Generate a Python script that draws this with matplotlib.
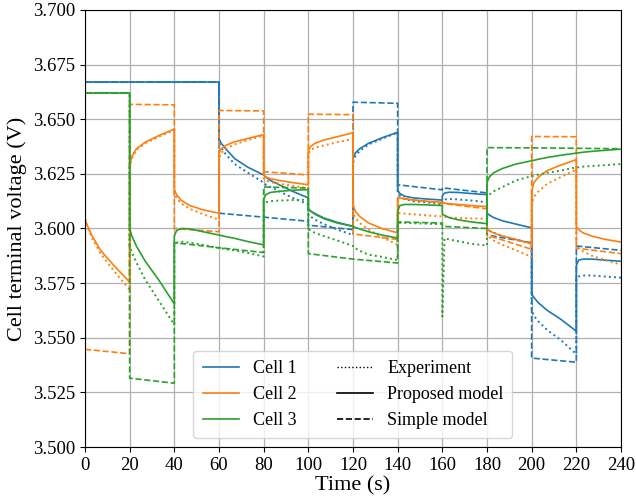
import numpy as np
import matplotlib
matplotlib.use("Agg")
import matplotlib.pyplot as plt
from matplotlib.lines import Line2D
from matplotlib.ticker import FormatStrFormatter

plt.rcParams['font.family'] = ['Liberation Serif', 'DejaVu Serif']

# sample times inside each 20 s step (s)
step_len = 20
offsets = [0, 1, 3, 7, 13, 20]

# Cell 1 -------------------------------------------------------------
cell1_exp = [
    [3.667, 3.667, 3.667, 3.667, 3.667, 3.667],
    [3.667, 3.667, 3.667, 3.667, 3.667, 3.667],
    [3.667, 3.667, 3.667, 3.667, 3.667, 3.667],
    [3.639, 3.637, 3.634, 3.6295, 3.6255, 3.621],
    [3.621, 3.620, 3.619, 3.617, 3.614, 3.611],
    [3.6065, 3.6055, 3.604, 3.602, 3.5995, 3.597],
    [3.630, 3.633, 3.6355, 3.6385, 3.641, 3.644],
    [3.617, 3.615, 3.6135, 3.6125, 3.612, 3.611],
    [3.6125, 3.6133, 3.6135, 3.6133, 3.6128, 3.612],
    [3.5995, 3.599, 3.598, 3.5965, 3.595, 3.593],
    [3.5625, 3.560, 3.5575, 3.5535, 3.549, 3.5425],
    [3.577, 3.578, 3.5785, 3.5785, 3.578, 3.5775],
]
cell1_prop = [
    [3.667, 3.667, 3.667, 3.667, 3.667, 3.667],
    [3.667, 3.667, 3.667, 3.667, 3.667, 3.667],
    [3.667, 3.667, 3.667, 3.667, 3.667, 3.667],
    [3.641, 3.639, 3.6365, 3.632, 3.628, 3.6245],
    [3.6245, 3.6235, 3.622, 3.620, 3.617, 3.614],
    [3.609, 3.608, 3.6068, 3.6048, 3.6028, 3.601],
    [3.632, 3.6345, 3.6365, 3.639, 3.6415, 3.644],
    [3.6175, 3.616, 3.6148, 3.614, 3.6135, 3.613],
    [3.615, 3.6162, 3.6166, 3.6165, 3.616, 3.6155],
    [3.607, 3.6062, 3.605, 3.6035, 3.602, 3.6003],
    [3.570, 3.5685, 3.566, 3.5625, 3.5585, 3.553],
    [3.583, 3.5855, 3.586, 3.586, 3.5855, 3.585],
]
cell1_simple = [
    (3.667, 3.667), (3.667, 3.667), (3.667, 3.667),
    (3.607, 3.6052), (3.6052, 3.6033), (3.6015, 3.5995),
    (3.6578, 3.6573), (3.620, 3.6177), (3.6186, 3.6163),
    (3.597, 3.5935), (3.5407, 3.5388), (3.592, 3.590),
]

# Cell 2 -------------------------------------------------------------
cell2_exp = [
    [3.6045, 3.601, 3.596, 3.5885, 3.5805, 3.572],
    [3.628, 3.632, 3.636, 3.639, 3.642, 3.645],
    [3.6165, 3.614, 3.6115, 3.609, 3.6065, 3.604],
    [3.632, 3.6345, 3.6365, 3.6385, 3.6405, 3.6425],
    [3.623, 3.622, 3.6212, 3.6205, 3.6195, 3.6185],
    [3.634, 3.636, 3.637, 3.638, 3.6395, 3.641],
    [3.6075, 3.605, 3.6025, 3.5995, 3.596, 3.5925],
    [3.6075, 3.607, 3.6068, 3.6065, 3.606, 3.6055],
    [3.6055, 3.6053, 3.605, 3.6048, 3.6046, 3.6045],
    [3.597, 3.596, 3.5945, 3.5925, 3.590, 3.587],
    [3.611, 3.6145, 3.617, 3.6205, 3.6235, 3.627],
    [3.5925, 3.591, 3.5895, 3.5875, 3.5855, 3.5835],
]
cell2_prop = [
    [3.6045, 3.6015, 3.597, 3.590, 3.583, 3.5755],
    [3.629, 3.633, 3.6365, 3.6395, 3.6425, 3.6455],
    [3.618, 3.6155, 3.613, 3.6105, 3.6085, 3.607],
    [3.6345, 3.6365, 3.638, 3.6397, 3.6412, 3.643],
    [3.6245, 3.6235, 3.6228, 3.622, 3.621, 3.620],
    [3.6355, 3.6375, 3.639, 3.6405, 3.642, 3.6438],
    [3.611, 3.608, 3.6055, 3.6025, 3.600, 3.598],
    [3.6135, 3.614, 3.6136, 3.613, 3.6125, 3.612],
    [3.612, 3.6117, 3.6113, 3.611, 3.6105, 3.610],
    [3.600, 3.599, 3.598, 3.5965, 3.595, 3.593],
    [3.617, 3.621, 3.6235, 3.6265, 3.629, 3.6315],
    [3.601, 3.5995, 3.598, 3.5965, 3.595, 3.5938],
]
cell2_simple = [
    (3.5447, 3.5427), (3.6568, 3.6566), (3.600, 3.5985),
    (3.654, 3.6538), (3.626, 3.6245), (3.6523, 3.6521),
    (3.5975, 3.595), (3.614, 3.6115), (3.6115, 3.609),
    (3.597, 3.5905), (3.6421, 3.642), (3.591, 3.5885),
]

# Cell 3 -------------------------------------------------------------
cell3_exp = [
    [3.662, 3.662, 3.662, 3.662, 3.662, 3.662],
    [3.592, 3.589, 3.5845, 3.5765, 3.567, 3.556],
    [3.5925, 3.5935, 3.594, 3.5935, 3.5925, 3.591],
    [3.591, 3.591, 3.5905, 3.590, 3.5888, 3.5872],
    [3.611, 3.612, 3.6125, 3.6128, 3.613, 3.6132],
    [3.600, 3.599, 3.598, 3.5965, 3.5945, 3.592],
    [3.5915, 3.591, 3.5898, 3.588, 3.587, 3.5855],
    [3.6025, 3.6026, 3.6026, 3.6024, 3.6022, 3.602],
    [3.5597, 3.5955, 3.595, 3.5942, 3.593, 3.5922],
    [3.6145, 3.6155, 3.617, 3.619, 3.622, 3.624],
    [3.624, 3.6242, 3.6247, 3.6255, 3.6265, 3.628],
    [3.628, 3.628, 3.6283, 3.6286, 3.629, 3.6295],
]
cell3_prop = [
    [3.662, 3.662, 3.662, 3.662, 3.662, 3.662],
    [3.600, 3.5965, 3.592, 3.585, 3.5765, 3.5655],
    [3.5965, 3.599, 3.600, 3.5998, 3.5985, 3.597],
    [3.597, 3.5968, 3.5963, 3.5955, 3.594, 3.5925],
    [3.6135, 3.6155, 3.6165, 3.617, 3.6175, 3.6178],
    [3.609, 3.608, 3.6065, 3.6045, 3.6025, 3.601],
    [3.601, 3.6005, 3.5998, 3.5985, 3.597, 3.5956],
    [3.608, 3.6105, 3.611, 3.611, 3.6108, 3.6105],
    [3.6065, 3.606, 3.605, 3.604, 3.603, 3.6022],
    [3.621, 3.6235, 3.6255, 3.6275, 3.6295, 3.631],
    [3.631, 3.6312, 3.6317, 3.6325, 3.6335, 3.6345],
    [3.6345, 3.6346, 3.6349, 3.6353, 3.6358, 3.6363],
]
cell3_simple = [
    (3.662, 3.662), (3.5315, 3.5292), (3.5935, 3.5912),
    (3.5912, 3.589), (3.619, 3.6185), (3.5885, 3.586),
    (3.586, 3.5842), (3.603, 3.6025), (3.601, 3.600),
    (3.637, 3.6369), (3.6369, 3.6367), (3.6367, 3.6365),
]

cell_names = ["Cell 1", "Cell 2", "Cell 3"]
cell_colors = ["#1f77b4", "#ff7f0e", "#2ca02c"]


def join_steps(segs, offs):
    t, v = [], []
    for i, seg in enumerate(segs):
        t0 = i * step_len
        t.extend(t0 + np.array(offs))
        v.extend(seg)
    return np.array(t), np.array(v)


fig = plt.figure(figsize=(6.36, 4.97), dpi=100)
ax = fig.add_axes([0.1336, 0.1006, 0.8428, 0.8793])

all_exp = [cell1_exp, cell2_exp, cell3_exp]
all_prop = [cell1_prop, cell2_prop, cell3_prop]
all_simple = [cell1_simple, cell2_simple, cell3_simple]

for exp, prop, simple, c in zip(all_exp, all_prop, all_simple, cell_colors):
    t, v = join_steps(exp, offsets)
    ax.plot(t, v, color=c, linestyle=':', linewidth=1.4)
    t, v = join_steps(prop, offsets)
    ax.plot(t, v, color=c, linestyle='-', linewidth=1.2)
    t, v = join_steps(simple, [0, step_len])
    ax.plot(t, v, color=c, linestyle='--', linewidth=1.2)

ax.set_xlim(0, 240)
ax.set_ylim(3.5, 3.7)
ax.set_xticks(np.arange(0, 241, 20))
ax.set_yticks(np.arange(3.5, 3.7001, 0.025))
ax.yaxis.set_major_formatter(FormatStrFormatter('%.3f'))
ax.tick_params(labelsize=13.5)
ax.grid(True, color='#b0b0b0', linewidth=0.9)
ax.set_xlabel("Time (s)", fontsize=16, labelpad=2)
ax.set_ylabel("Cell terminal voltage (V)", fontsize=16)

handles = [Line2D([], [], color=c, linewidth=1.2) for c in cell_colors]
handles += [Line2D([], [], color='k', linestyle=':', linewidth=1.0),
            Line2D([], [], color='k', linestyle='-', linewidth=1.2),
            Line2D([], [], color='k', linestyle='--', linewidth=1.2)]
labels = cell_names + ["Experiment", "Proposed model", "Simple model"]
ax.legend(handles, labels, ncol=2, loc='lower center', fontsize=13,
          columnspacing=2.2, borderpad=0.5)

fig.savefig("out.png", dpi=100)
